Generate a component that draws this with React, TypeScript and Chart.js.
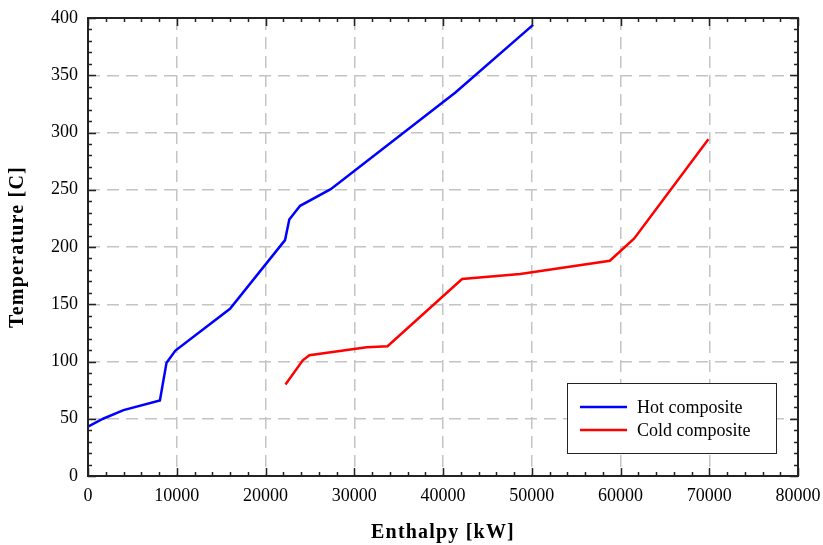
import React, { useEffect, useRef } from "react";
import { Chart, registerables } from "chart.js";

Chart.register(...registerables);

const hotEnthalpy = [0, 1700, 4000, 8100, 8850, 9850, 16000, 22200, 22680, 23900, 27350, 41400, 50150];
const hotTemperature = [43, 50, 57.5, 66, 99, 109.5, 146, 206, 224, 236, 250.5, 335, 394];

const coldEnthalpy = [22250, 24200, 24950, 31400, 33750, 42150, 48700, 58800, 61550, 69900];
const coldTemperature = [80, 101, 105.5, 112.5, 113.3, 172, 176.5, 188, 207.5, 294];

const seriesLabels = ["Hot composite", "Cold composite"];
const seriesColors = ["#0000ff", "#ff0000"];

const xTitle = "Enthalpy [kW]";
const yTitle = "Temperature [C]";

const FONT = "'Liberation Serif', 'Times New Roman', serif";

const frameTicks = {
  id: "frameTicks",
  afterDatasetsDraw(chart: any) {
    const { ctx, chartArea, scales } = chart;
    const { left, right, top, bottom } = chartArea;
    ctx.save();
    ctx.strokeStyle = "#222";
    ctx.lineWidth = 1.5;
    ctx.beginPath();
    for (let v = 0; v <= 80000; v += 2000) {
      const x = Math.round(scales.x.getPixelForValue(v)) + 0.5;
      const len = v % 10000 === 0 ? 8 : 4;
      ctx.moveTo(x, bottom);
      ctx.lineTo(x, bottom - len);
      ctx.moveTo(x, top);
      ctx.lineTo(x, top + len);
    }
    for (let v = 0; v <= 400; v += 10) {
      const y = Math.round(scales.y.getPixelForValue(v)) + 0.5;
      const len = v % 50 === 0 ? 8 : 4;
      ctx.moveTo(left, y);
      ctx.lineTo(left + len, y);
      ctx.moveTo(right, y);
      ctx.lineTo(right - len, y);
    }
    ctx.stroke();
    ctx.lineWidth = 2;
    ctx.strokeRect(left, top, right - left, bottom - top);
    ctx.restore();
  },
};

const titles = {
  id: "titles",
  afterDraw(chart: any) {
    const { ctx, chartArea } = chart;
    ctx.save();
    ctx.fillStyle = "#000";
    ctx.font = `bold 20px ${FONT}`;
    (ctx as any).letterSpacing = "1.2px";
    ctx.textAlign = "center";
    ctx.textBaseline = "middle";
    ctx.fillText(xTitle, (chartArea.left + chartArea.right) / 2, 533);
    ctx.translate(18, (chartArea.top + chartArea.bottom) / 2);
    ctx.rotate(-Math.PI / 2);
    ctx.fillText(yTitle, 0, 0);
    ctx.restore();
  },
};

const boxLegend = {
  id: "boxLegend",
  afterDraw(chart: any) {
    const { ctx, chartArea } = chart;
    const bx = chartArea.right - 231;
    const by = chartArea.bottom - 93;
    const bw = 209;
    const bh = 70;
    ctx.save();
    ctx.fillStyle = "#fff";
    ctx.fillRect(bx, by, bw, bh);
    ctx.strokeStyle = "#222";
    ctx.lineWidth = 1;
    ctx.strokeRect(bx + 0.5, by + 0.5, bw, bh);
    chart.data.datasets.forEach((ds: any, i: number) => {
      const y = by + 24 + i * 23;
      ctx.strokeStyle = ds.borderColor;
      ctx.lineWidth = 2.5;
      ctx.beginPath();
      ctx.moveTo(bx + 13, y);
      ctx.lineTo(bx + 60, y);
      ctx.stroke();
      ctx.fillStyle = "#000";
      ctx.font = `18px ${FONT}`;
      ctx.textBaseline = "middle";
      ctx.textAlign = "left";
      ctx.fillText(ds.label, bx + 70, y + 1);
    });
    ctx.restore();
  },
};

export default function App() {
  const ref = useRef<HTMLCanvasElement | null>(null);

  useEffect(() => {
    if (!ref.current) return;
    const toPoints = (xs: number[], ys: number[]) => xs.map((x, i) => ({ x, y: ys[i] }));
    const chart = new Chart(ref.current, {
      type: "line",
      data: {
        datasets: [
          {
            label: seriesLabels[0],
            data: toPoints(hotEnthalpy, hotTemperature),
            borderColor: seriesColors[0],
            backgroundColor: seriesColors[0],
            borderWidth: 2.5,
            pointRadius: 0,
            tension: 0,
          },
          {
            label: seriesLabels[1],
            data: toPoints(coldEnthalpy, coldTemperature),
            borderColor: seriesColors[1],
            backgroundColor: seriesColors[1],
            borderWidth: 2.5,
            pointRadius: 0,
            tension: 0,
          },
        ],
      },
      options: {
        responsive: false,
        animation: false,
        layout: { padding: { top: 18, right: 25, left: 0, bottom: 0 } },
        plugins: { legend: { display: false }, tooltip: { enabled: false } },
        scales: {
          x: {
            type: "linear",
            min: 0,
            max: 80000,
            afterFit: (s: any) => {
              s.height = 69;
              s.paddingLeft = 0;
              s.paddingRight = 0;
            },
            ticks: {
              stepSize: 10000,
              color: "#000",
              padding: 9,
              maxRotation: 0,
              font: { family: FONT, size: 18 },
              callback: (v: any) => String(v),
            },
            grid: { color: "#c4c4c4", lineWidth: 1.5, drawTicks: false },
            border: { display: false, dash: [12, 7] },
          },
          y: {
            type: "linear",
            min: 0,
            max: 400,
            afterFit: (s: any) => {
              s.width = 88;
              s.paddingTop = 0;
              s.paddingBottom = 0;
            },
            ticks: {
              stepSize: 50,
              color: "#000",
              padding: 10,
              font: { family: FONT, size: 18 },
            },
            grid: { color: "#c4c4c4", lineWidth: 1.5, drawTicks: false },
            border: { display: false, dash: [12, 7] },
          },
        },
      },
      plugins: [frameTicks, titles, boxLegend],
    });
    return () => chart.destroy();
  }, []);

  return (
    <div style={{ position: "fixed", left: 0, top: 0, width: 823, height: 545, background: "#fff" }}>
      <canvas ref={ref} width={823} height={545} style={{ display: "block" }} />
    </div>
  );
}
